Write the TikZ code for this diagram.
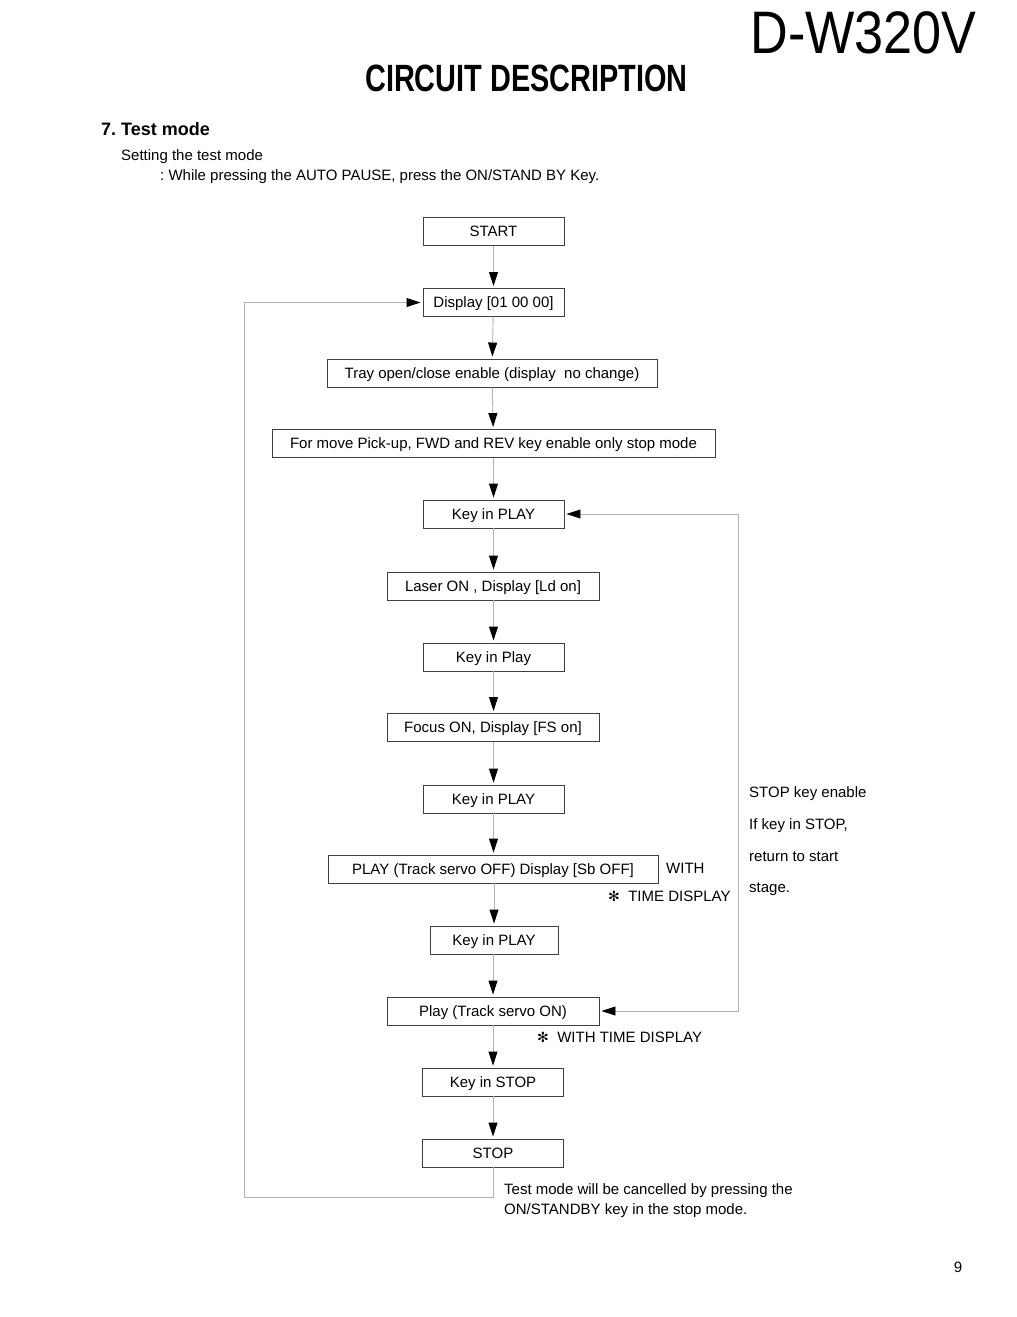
\documentclass[tikz,border=0pt]{standalone}
\usepackage{fontspec}
\setmainfont{Liberation Sans}
\newfontfamily\symfont{DejaVu Sans}
\usetikzlibrary{arrows.meta, positioning}
\frenchspacing

\tikzset{
  >={Triangle[length=14pt,width=9pt,color=black]},
  stepbox/.style={draw=black!75, line width=0.9pt, minimum height=28pt, minimum width=141pt, inner sep=0pt, text height=10.7pt, text depth=0pt, font=\fontsize{15}{18}\selectfont},
  flow/.style={draw=black!30, line width=0.9pt, ->, shorten >=2pt},
  note/.style={anchor=base west, inner sep=0pt, font=\fontsize{15}{18}\selectfont}
}

\begin{document}
\begin{tikzpicture}[x=1pt, y=-1pt]
    \useasboundingbox (0,0) rectangle (1017,1317);

    \node[inner sep=0pt, font=\fontsize{60}{60}\selectfont] (model) at (863.5,32.5) {\scalebox{0.87}[1]{D-W320V}};
    \node[inner sep=0pt, font=\fontsize{38}{38}\selectfont\bfseries] (title) at (526.5,78.5) {\scalebox{0.76}[1]{CIRCUIT DESCRIPTION}};
    \node[note, font=\fontsize{18}{20}\selectfont\bfseries] (sect) at (101,135.5) {7. Test mode};
    \node[note] (set1) at (121,160) {Setting the test mode};
    \node[note] (set2) at (160,180) {: While pressing the AUTO PAUSE, press the ON/STAND BY Key.};

    \node[stepbox] (start) at (493.5,231.5) {START};
    \node[stepbox] (disp)  at (493.5,302.5) {Display [01 00 00]};
    \node[stepbox, minimum width=330pt] (tray) at (492,373) {Tray open/close enable (display\ \ no change)};
    \node[stepbox, minimum width=443pt] (pick) at (493.5,443.5) {For move Pick-up, FWD and REV key enable only stop mode};
    \node[stepbox] (kp1)   at (493.5,514) {Key in PLAY};
    \node[stepbox, minimum width=212pt] (laser) at (493,586) {Laser ON , Display [Ld on]};
    \node[stepbox] (kp2)   at (493.5,657) {Key in Play};
    \node[stepbox, minimum width=212pt] (focus) at (493,727.5) {Focus ON, Display [FS on]};
    \node[stepbox] (kp3)   at (493.5,799) {Key in PLAY};
    \node[stepbox, minimum width=330pt] (sboff) at (493,869) {PLAY (Track servo OFF) Display [Sb OFF]};
    \node[stepbox, minimum width=128pt] (kp4)   at (494,940) {Key in PLAY};
    \node[stepbox, minimum width=212pt] (play)  at (493,1011) {Play (Track servo ON)};
    \node[stepbox] (kstop) at (493,1082) {Key in STOP};
    \node[stepbox] (stop)  at (493,1153) {STOP};

    \draw[flow] (start) -- (disp);
    \draw[flow] (disp) -- (tray);
    \draw[flow] (tray) -- (pick);
    \draw[flow] (pick.south -| kp1) -- (kp1);
    \draw[flow] (kp1) -- (laser.north -| kp1);
    \draw[flow] (laser.south -| kp2) -- (kp2);
    \draw[flow] (kp2) -- (focus.north -| kp2);
    \draw[flow] (focus.south -| kp3) -- (kp3);
    \draw[flow] (kp3) -- (sboff.north -| kp3);
    \draw[flow] (sboff.south -| kp4) -- (kp4);
    \draw[flow] (kp4.south -| play) -- (play);
    \draw[flow] (play) -- (kstop);
    \draw[flow] (kstop) -- (stop);

    \coordinate (lp) at (244,1197);
    \draw[flow] (stop.south) |- (lp) |- (disp.west);

    \coordinate (rp) at (738,514);
    \draw[flow, <->, shorten <=2pt] (kp1.east) -- (rp) |- (play.east);

    \node[note] (en1) at (749,797) {STOP key enable};
    \node[note] (en2) at (749,829) {If key in STOP,};
    \node[note] (en3) at (749,861) {return to start};
    \node[note] (en4) at (749,892) {stage.};
    \node[note] (with) at (666,873) {WITH};
    \node[note] (td1) at (608,901) {{\symfont\fontsize{14}{14}\selectfont ✻}\ \ TIME DISPLAY};
    \node[note] (td2) at (537,1042) {{\symfont\fontsize{14}{14}\selectfont ✻}\ \ WITH TIME DISPLAY};
    \node[note] (end1) at (504,1194) {Test mode will be cancelled by pressing the};
    \node[note] (end2) at (504,1214) {ON/STANDBY key in the stop mode.};
    \node[note, anchor=base] (page) at (958,1272) {9};
\end{tikzpicture}
\end{document}
